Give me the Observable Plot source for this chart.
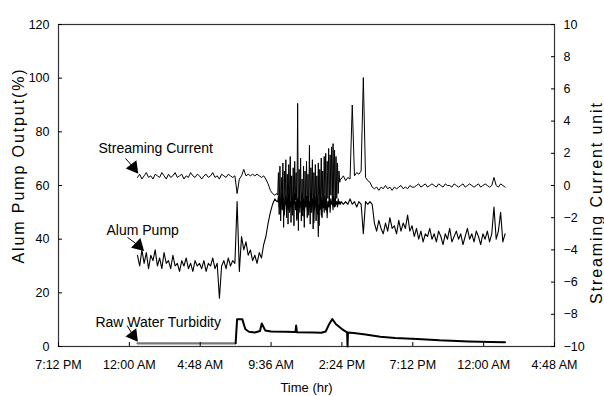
<!DOCTYPE html>
<html>
<head>
<meta charset="utf-8">
<script src="https://cdn.jsdelivr.net/npm/d3@7"></script>
<script src="https://cdn.jsdelivr.net/npm/@observablehq/plot@0.6"></script>
<style>
  html, body { margin: 0; padding: 0; background: #fff; }
</style>
</head>
<body>
<div id="chart"></div>
<script>
// ---- data (hours are relative to 12:00 AM of the first night) ----
const xTickHours = [-4.8, 0, 4.8, 9.6, 14.4, 19.2, 24, 28.8];
const leftTicks = [0, 20, 40, 60, 80, 100, 120];
const rightTicks = [-10, -8, -6, -4, -2, 0, 2, 4, 6, 8, 10];

// sampled records: Alum pump (%) and streaming current (unit)
// early block: from 00:33, every 0.15 h
const earlyStart = 0.55, earlyStep = 0.15;
const pumpEarly = [
  34,30,36,31,35,29,34,32,36,30, 33,29,35,31,32,29,34,30,31,28,
  32,30,33,29,31,28,32,30,31,29, 32,28,31,30,33,29,31,18,30,32,
  29,33,30,32,31,
  54,28,41,36,39,34,36,32,34,31, 35,33,38,41,46,50,53,55,54
];
const scEarly = [
  0.5,0.7,0.4,0.6,0.8,0.5,0.6,0.4,0.7,0.6, 0.5,0.8,0.6,0.4,0.7,0.5,0.6,0.8,0.5,0.6,
  0.7,0.4,0.6,0.5,0.8,0.6,0.5,0.7,0.6,0.4, 0.6,0.7,0.5,0.6,0.8,0.5,0.6,0.4,0.7,0.6,
  0.5,0.7,0.6,0.5,0.6,
  -0.5,0.4,0.6,1.0,0.6,0.7,0.6,0.7,0.6,0.7, 0.6,0.5,0.6,0.4,0.1,-0.3,-0.5,-0.6,-0.5
];
// unstable block: from 10:03, every 0.05 h
const denseStart = 10.05, denseStep = 0.05;
const pumpDense = [
  54,56,52,55,50,54,57,51,55,49, 53,56,52,55,51,57,50,54,52,56,
  49,55,53,57,51,54,47,55,52,56, 50,54,53,57,51,55,48,54,52,56,
  51,55,49,54,52,57,50,55,53,46, 54,52,56,50,55,41,53,51,56,49,
  55,52,54,50,56,51,55,48,54,52, 56,50,55,53,54,51,56,52,55,53,
  54,52,55,53,54,53
];
const scDense = [
  -0.6,0.8,-1.8,1.2,-2.2,0.5,-1.5,1.4,-2.6,0.9, -1.2,1.6,-2.0,0.7,-2.4,1.3,-1.0,1.8,-2.3,0.6,
  -1.7,1.1,-2.5,1.5,-0.9,0.8,-2.1,5.1,-2.8,1.0, -1.4,1.7,-2.2,0.4,-1.9,1.2,-2.6,0.9,-1.3,1.5,
  -2.0,0.7,-1.6,2.5,-2.4,1.1,-1.1,1.6,-2.7,0.8, -1.5,1.3,-2.2,0.6,-1.8,1.4,-2.5,1.0,-1.2,1.7,
  -2.0,0.9,-1.4,1.8,-1.0,2.0,-1.6,1.5,-0.8,2.3, -1.2,1.9,-0.6,2.4,-1.0,2.6,-0.9,2.2,-1.3,1.8,
  -0.8,1.4,-0.5,0.9,0.2,0.4
];
// late block: from 14:21, every 0.15 h
const lateStart = 14.35, lateStep = 0.15;
const pumpLate = [
  54,53,54,53,55,53,54,52,54,53, 42,54,53,54,53,
  46,43,47,44,42,46,43,48,44,45, 42,47,43,46,44,49,43,45,41,44,
  40,43,39,42,41,44,40,42,39,43, 41,38,42,40,44,39,41,43,40,42,
  38,41,44,40,42,39,43,41,38,42, 40,43,39,42,52,40,43,50,39,42
];
const scLate = [
  0.4,0.6,0.3,0.5,0.4,5.0,0.6,0.8,0.7,0.9, 6.7,0.5,0.3,0.2,-0.1,
  -0.2,-0.1,-0.3,-0.1,-0.2,0.0,-0.2,-0.1,-0.3,-0.1, -0.2,-0.1,0.0,-0.2,-0.1,-0.2,0.0,-0.1,-0.1,0.0,
  0.1,-0.1,0.0,0.1,-0.1,0.0,0.1,0.0,-0.1,0.1, 0.0,-0.1,0.1,0.0,0.0,-0.1,0.1,0.0,-0.1,0.0,
  0.1,-0.1,0.0,0.1,0.0,-0.1,0.0,0.1,-0.1,0.0, 0.1,0.0,-0.1,0.0,0.5,0.0,-0.1,0.1,0.0,-0.1
];

// raw water turbidity (drawn on the left scale)
const turbHours  = [0.55, 7.2, 7.3, 7.65, 7.85, 8.1, 8.5, 8.85, 8.97, 9.2, 9.6, 10.5, 11.25, 11.3, 11.35, 12.5, 13.0, 13.3, 13.55, 13.75, 14.0, 14.4, 14.75, 14.78, 14.81, 15.2, 16.0, 17.0, 18.0, 19.5, 21.0, 23.0, 24.5, 25.45];
const turbValues = [1.2, 1.2, 10.2, 10.2, 6.5, 5.5, 5.2, 5.8, 8.6, 6.0, 5.6, 5.5, 5.4, 7.8, 5.3, 5.2, 5.1, 5.6, 8.5, 10.2, 8.3, 6.5, 5.3, 0, 5.2, 5.0, 4.5, 3.6, 3.2, 2.8, 2.3, 1.9, 1.7, 1.6];

// annotations
const labelText = ["Streaming Current", "Alum Pump", "Raw Water Turbidity"];
const labelHours = [-2.09, -1.55, -2.3];
const labelValues = [73.8, 43.2, 8.9];
const arrowFromHours = [-0.26, -0.13, -0.15];
const arrowFromValues = [70.1, 40.7, 7.8];
const arrowToHours = [0.28, 0.62, 0.26];
const arrowToValues = [66.7, 37.6, 4.1];
const arrowAngles = [142, 134, 143];

const titleLeft = "Alum Pump Output(%)";
const titleRight = "Streaming Current unit";
const titleX = "Time (hr)";

// ---- build ----
const base = Date.UTC(2000, 0, 1);
const toDate = h => new Date(base + h * 3600e3);
const scToLeft = v => (v + 10) * 6;        // right axis (-10..10) onto left axis (0..120)
const leftToSc = v => v / 6 - 10;

const rowsOf = (values, start, step, conv) => values.map((v, i) => ({t: toDate(start + i * step), y: conv(v)}));
const id = v => v;
const pumpRows = [
  ...rowsOf(pumpEarly, earlyStart, earlyStep, id),
  ...rowsOf(pumpDense, denseStart, denseStep, id),
  ...rowsOf(pumpLate, lateStart, lateStep, id)
];
const scRows = [
  ...rowsOf(scEarly, earlyStart, earlyStep, scToLeft),
  ...rowsOf(scDense, denseStart, denseStep, scToLeft),
  ...rowsOf(scLate, lateStart, lateStep, scToLeft)
];
const turbRows = turbHours.map((h, i) => ({t: toDate(h), y: turbValues[i], h}));
const labels = labelText.map((s, i) => ({s, t: toDate(labelHours[i]), y: labelValues[i]}));
const arrows = labelText.map((s, i) => ({
  t1: toDate(arrowFromHours[i]), y1: arrowFromValues[i],
  t2: toDate(arrowToHours[i]), y2: arrowToValues[i], a: arrowAngles[i]
}));

const font = "'Liberation Sans',Arial,sans-serif";
const fmtNum = v => v < 0 ? "\u2212" + Math.abs(v) : String(v);

const chart = Plot.plot({
  width: 604,
  height: 396,
  marginLeft: 58,
  marginRight: 50,
  marginTop: 24,
  marginBottom: 50,
  style: {fontFamily: font, fontSize: "12.5px", color: "#000", background: "#fff", overflow: "visible"},
  x: {type: "utc", domain: [toDate(xTickHours[0]), toDate(xTickHours[xTickHours.length - 1])]},
  y: {domain: [0, 120]},
  marks: [
    Plot.frame({stroke: "#333", strokeWidth: 1.2}),
    Plot.line(turbRows.filter(d => d.h <= 7.2), {x: "t", y: "y", stroke: "#777", strokeWidth: 2.2}),
    Plot.line(turbRows.filter(d => d.h >= 7.2), {x: "t", y: "y", stroke: "#000", strokeWidth: 2}),
    Plot.line(pumpRows, {x: "t", y: "y", stroke: "#000", strokeWidth: 1.1}),
    Plot.line(scRows, {x: "t", y: "y", stroke: "#000", strokeWidth: 1}),
    Plot.link(arrows, {x1: "t1", y1: "y1", x2: "t2", y2: "y2", stroke: "#000", strokeWidth: 1}),
    Plot.dot(arrows, {x: "t2", y: "y2", symbol: "triangle", r: 5, fill: "#000", stroke: "none", rotate: "a"}),
    Plot.text(labels, {x: "t", y: "y", text: "s", textAnchor: "start", lineAnchor: "middle", fontSize: 14, fill: "#000"}),
    Plot.axisX({ticks: xTickHours.map(toDate), tickFormat: d3.utcFormat("%-I:%M %p"), tickSize: -4, tickPadding: 18, label: null}),
    Plot.axisY({anchor: "left", ticks: leftTicks, tickSize: -4, tickPadding: 13, label: null}),
    Plot.axisY({anchor: "right", ticks: rightTicks.map(scToLeft), tickFormat: d => fmtNum(Math.round(leftToSc(d))), tickSize: -4, tickPadding: 13, label: null}),
    Plot.text([titleLeft], {frameAnchor: "left", dx: -40, dy: -20, rotate: -90, textAnchor: "middle", text: d => d, fontSize: 16}),
    Plot.text([titleRight], {frameAnchor: "right", dx: 42, dy: 17, rotate: -90, textAnchor: "middle", text: d => d, fontSize: 16}),
    Plot.text([titleX], {frameAnchor: "bottom", dy: 45, text: d => d, fontSize: 13})
  ]
});
d3.select(chart).selectAll("text")
  .filter(function() { return this.textContent === titleLeft || this.textContent === titleRight; })
  .style("letter-spacing", "1.9px");
document.getElementById("chart").appendChild(chart);
</script>
</body>
</html>
